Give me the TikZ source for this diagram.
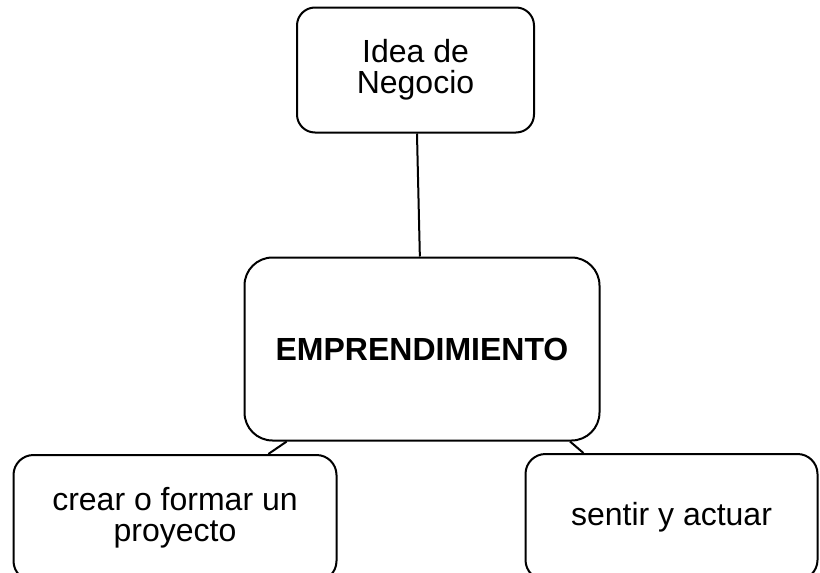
\documentclass[tikz,border=0pt]{standalone}
\usepackage{fontspec}
\setmainfont{Liberation Sans}
\begin{document}
\begin{tikzpicture}[x=1pt,y=-1pt,
  box/.style={draw=black, line width=2pt, align=center, inner sep=0pt,
    font=\fontsize{32}{31}\selectfont},
  edge/.style={draw=black, line width=2pt}]
\useasboundingbox (0,0) rectangle (820,573);
\node[box, minimum width=237pt, minimum height=125pt, rounded corners=18pt] (t) at (415.5,70) {Idea de\\Negocio};
\node[box, minimum width=355pt, minimum height=183pt, rounded corners=28pt,
  font=\fontsize{32}{31}\selectfont\bfseries] (c) at (422,349) {EMPRENDIMIENTO};
\node[box, minimum width=323pt, minimum height=126pt, rounded corners=20pt] (l) at (175,518) {crear o formar un\\proyecto};
\node[box, minimum width=292pt, minimum height=126pt, rounded corners=20pt] (r) at (671.5,517) {sentir y actuar};
\draw[edge] (t) -- (c);
\draw[edge] (c) -- (l);
\draw[edge] (c.-32.8) -- (r.144.3);
\end{tikzpicture}
\end{document}
